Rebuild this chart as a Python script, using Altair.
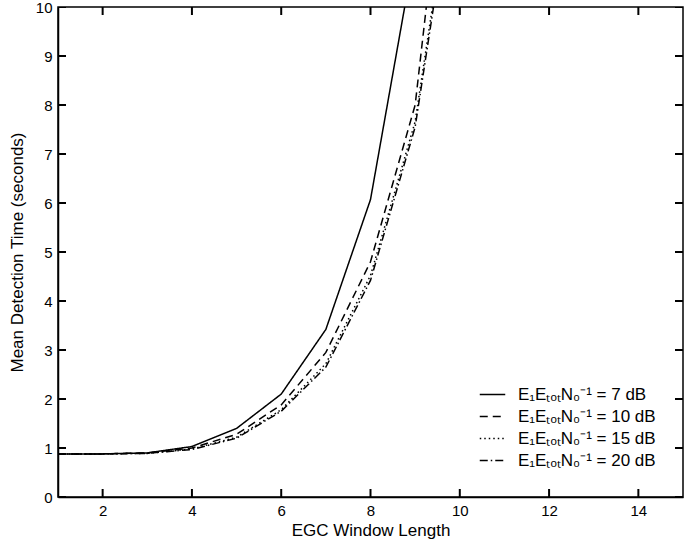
import altair as alt
import pandas as pd

# ---- data ----
window_len = [1, 2, 3, 4, 5, 6, 7, 8, 9, 10]
series_names = [
    "E₁EₜₒₜN₀⁻¹ = 7 dB",
    "E₁EₜₒₜN₀⁻¹ = 10 dB",
    "E₁EₜₒₜN₀⁻¹ = 15 dB",
    "E₁EₜₒₜN₀⁻¹ = 20 dB",
]
snr_7 = [0.88, 0.88, 0.90, 1.03, 1.40, 2.10, 3.42, 6.07, 11.2, 20.0]
snr_10 = [0.88, 0.88, 0.90, 1.00, 1.28, 1.88, 2.95, 4.80, 8.00, 16.0]
snr_15 = [0.88, 0.88, 0.89, 0.98, 1.22, 1.78, 2.72, 4.52, 7.66, 13.7]
snr_20 = [0.88, 0.88, 0.89, 0.97, 1.20, 1.75, 2.65, 4.42, 7.55, 13.5]
x_ticks = [2, 4, 6, 8, 10, 12, 14]
y_ticks = [0, 1, 2, 3, 4, 5, 6, 7, 8, 9, 10]
x_range = [1, 15]
y_range = [0, 10]

rows = []
for name, vals in zip(series_names, [snr_7, snr_10, snr_15, snr_20]):
    for xv, yv in zip(window_len, vals):
        rows.append({"x": xv, "y": yv, "series": name})
df = pd.DataFrame(rows)
xt_df = pd.DataFrame({"x": x_ticks})
yt_df = pd.DataFrame({"y": y_ticks})

FONT = "Liberation Sans"
xscale = alt.Scale(domain=x_range, nice=False, zero=False)
yscale = alt.Scale(domain=y_range, nice=False)

lines = alt.Chart(df).mark_line(color="black", strokeWidth=1.5, clip=True).encode(
    x=alt.X("x:Q", scale=xscale,
            axis=alt.Axis(values=x_ticks, title="EGC Window Length", grid=False,
                          ticks=False, labelPadding=6, titlePadding=4)),
    y=alt.Y("y:Q", scale=yscale,
            axis=alt.Axis(values=y_ticks, title="Mean Detection Time (seconds)", grid=False,
                          ticks=False, labelPadding=6, titlePadding=9)),
    strokeDash=alt.StrokeDash(
        "series:N",
        scale=alt.Scale(domain=series_names,
                        range=[[1, 0], [8, 5], [1.5, 3], [8, 3, 1.5, 3]]),
        legend=alt.Legend(title=None, orient="none", legendX=421, legendY=374,
                          symbolType="stroke", symbolSize=650, symbolStrokeWidth=1.5,
                          symbolStrokeColor="black", labelFontSize=17, labelFont=FONT,
                          labelColor="black", rowPadding=0, labelOffset=12,
                          labelLimit=300),
    ),
    detail="series:N",
    order="x:Q",
)

# inward tick marks on all four sides: centred on the frame, clipped to the plot
TICK = 16
tick_style = dict(color="black", thickness=2, size=TICK, opacity=1, clip=True)
bottom_ticks = alt.Chart(xt_df).mark_tick(orient="vertical", **tick_style).encode(
    x=alt.X("x:Q"), y=alt.datum(y_range[0]))
top_ticks = alt.Chart(xt_df).mark_tick(orient="vertical", **tick_style).encode(
    x=alt.X("x:Q"), y=alt.datum(y_range[1]))
left_ticks = alt.Chart(yt_df).mark_tick(orient="horizontal", **tick_style).encode(
    y=alt.Y("y:Q"), x=alt.datum(x_range[0]))
right_ticks = alt.Chart(yt_df).mark_tick(orient="horizontal", **tick_style).encode(
    y=alt.Y("y:Q"), x=alt.datum(x_range[1]))

chart = alt.layer(lines, bottom_ticks, top_ticks, left_ticks, right_ticks).properties(
    width=625, height=490,
    background="white",
    autosize=alt.AutoSizeParams(type="none"),
    padding={"left": 58, "top": 7, "right": 17, "bottom": 50},
).configure_view(stroke="black", strokeWidth=1.5).configure_axis(
    domainColor="black", domainWidth=1.5,
    labelFont=FONT, labelFontSize=15, labelColor="black",
    titleFont=FONT, titleFontSize=17, titleColor="black", titleFontWeight="normal",
)

chart.save("out.html", embed_options={"renderer": "svg", "actions": False})
